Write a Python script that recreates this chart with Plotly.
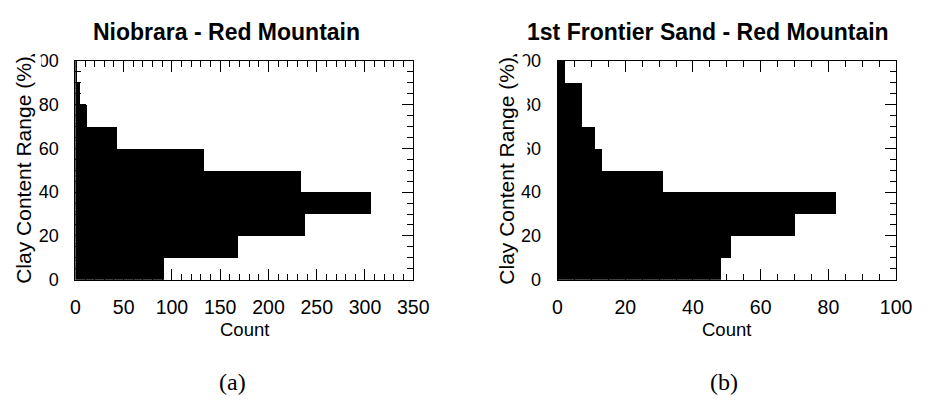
import plotly.graph_objects as go

# Clay-content bins (%) and the sample counts per bin for each formation
bin_edges = [0, 10, 20, 30, 40, 50, 60, 70, 80, 90, 100]
niobrara_counts = [92, 169, 238, 307, 234, 134, 43, 12, 5, 2]
frontier_counts = [48, 51, 70, 82, 31, 13, 11, 7, 7, 2]

panel_titles = ["Niobrara - Red Mountain", "1st Frontier Sand - Red Mountain"]
panel_captions = ["(a)", "(b)"]
y_title = "Clay Content Range (%)"
x_title = "Count"

W, H = 930, 407
SANS = "Liberation Sans, Arial, Helvetica, sans-serif"
SERIF = "Liberation Serif, Times New Roman, serif"


def px(x):
    return x / W


def py(y):
    return (H - y) / H


centers = [(a + b) / 2 for a, b in zip(bin_edges[:-1], bin_edges[1:])]
widths = [b - a for a, b in zip(bin_edges[:-1], bin_edges[1:])]

fig = go.Figure()
fig.add_trace(go.Bar(x=niobrara_counts, y=centers, width=widths, orientation="h",
                     marker=dict(color="black", line=dict(width=0)),
                     xaxis="x", yaxis="y", showlegend=False))
fig.add_trace(go.Bar(x=frontier_counts, y=centers, width=widths, orientation="h",
                     marker=dict(color="black", line=dict(width=0)),
                     xaxis="x2", yaxis="y2", showlegend=False))

# plot-area boxes in pixels: (left, right, top, bottom)
boxes = [(72, 417.7, 53.3, 283.7), (565.3, 911.7, 53.3, 283.7)]
x_ranges = [[0, 350], [0, 100]]
x_major = [50, 20]
x_minor = [10, 5]
y_range = [0, 100]


def tick_style(size):
    return dict(ticks="inside", tickcolor="black", tickwidth=1, ticklen=11,
                showgrid=False, zeroline=False, fixedrange=True,
                tickfont=dict(family=SANS, size=size, color="black"))


def minor_style(dtick):
    return dict(dtick=dtick, ticks="inside", ticklen=6, tickcolor="black",
                tickwidth=1, showgrid=False)


for i, (l, r, t, b) in enumerate(boxes):
    n = i + 1
    sx = "" if n == 1 else str(n)
    # bottom / left axes with labels; frame closed by mirrored lines
    xa = tick_style(19.5)
    xa.update(domain=[px(l), px(r)], range=x_ranges[i], tick0=0, dtick=x_major[i],
              anchor="y" + sx, ticklabelstandoff=10, showline=True,
              linecolor="black", linewidth=1, mirror="ticks",
              minor=minor_style(x_minor[i]))
    ya = tick_style(18)
    ya.update(domain=[py(b), py(t)], range=y_range, tick0=0, dtick=20,
              anchor="x" + sx, ticklabelstandoff=12, showline=True,
              linecolor="black", linewidth=1, mirror="ticks",
              minor=minor_style(5))
    fig.layout["xaxis" + sx] = xa
    fig.layout["yaxis" + sx] = ya
    # top / right tick rows (no labels)
    xt = tick_style(12)
    xt.update(range=x_ranges[i], tick0=0, dtick=x_major[i], overlaying="x" + sx,
              side="top", anchor="y" + sx, showticklabels=False, showline=False,
              minor=minor_style(x_minor[i]))
    yt = tick_style(12)
    yt.update(range=y_range, tick0=0, dtick=20, overlaying="y" + sx,
              side="right", anchor="x" + sx, showticklabels=False, showline=False,
              minor=minor_style(5))
    fig.layout["xaxis" + str(n + 2)] = xt
    fig.layout["yaxis" + str(n + 2)] = yt

annotations = []
title_cx = [227, 719]
ytitle_cx = [19, 513]
caption_cx = [233, 736]
for i, (l, r, t, b) in enumerate(boxes):
    annotations.append(dict(text="<b>%s</b>" % panel_titles[i], x=px(title_cx[i]), y=py(23),
                            xref="paper", yref="paper", showarrow=False,
                            xanchor="center", yanchor="middle",
                            font=dict(family=SANS, size=23, color="black")))
    annotations.append(dict(text=y_title, x=px(ytitle_cx[i]), y=py((t + b) / 2),
                            xref="paper", yref="paper", showarrow=False, textangle=-90,
                            xanchor="center", yanchor="middle",
                            font=dict(family=SANS, size=21, color="black")))
    annotations.append(dict(text=x_title, x=px((l + r) / 2), y=py(336),
                            xref="paper", yref="paper", showarrow=False,
                            xanchor="center", yanchor="middle",
                            font=dict(family=SANS, size=18.5, color="black")))
    annotations.append(dict(text=panel_captions[i], x=px(caption_cx[i]), y=py(391),
                            xref="paper", yref="paper", showarrow=False,
                            xanchor="center", yanchor="middle",
                            font=dict(family=SERIF, size=24, color="black")))

# white patches where the axis-title boxes overlap the tick labels
shapes = [
    dict(type="rect", xref="paper", yref="paper", layer="above",
         x0=px(0), x1=px(37), y0=py(49), y1=py(63),
         fillcolor="white", line=dict(width=0)),
    dict(type="rect", xref="paper", yref="paper", layer="above",
         x0=px(490), x1=px(534.5), y0=py(49), y1=py(155),
         fillcolor="white", line=dict(width=0)),
]

fig.update_layout(width=W, height=H, margin=dict(l=0, r=0, t=0, b=0),
                  paper_bgcolor="white", plot_bgcolor="white",
                  bargap=0, annotations=annotations, shapes=shapes,
                  font=dict(family=SANS, color="black"))

fig.write_html("out.html", config={"displayModeBar": False})
